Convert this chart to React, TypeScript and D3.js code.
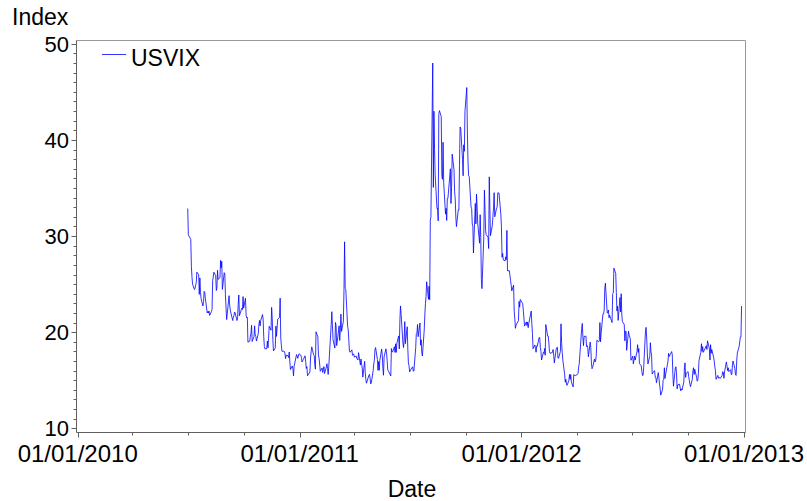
import React from "react";
import * as d3 from "d3";

// ---- data (USVIX daily closes) ----
const vix2010H2: [string, number][] = [
["2010-07-01",32.86],["2010-07-02",30.12],["2010-07-06",29.65],["2010-07-07",26.84],["2010-07-08",25.71],["2010-07-09",24.98],["2010-07-12",24.43],["2010-07-13",24.56],["2010-07-14",24.89],["2010-07-15",25.14],["2010-07-16",26.25],["2010-07-19",25.97],["2010-07-20",23.93],["2010-07-21",25.64],["2010-07-22",24.13],["2010-07-23",23.47],["2010-07-26",22.73],["2010-07-27",23.19],["2010-07-28",24.25],["2010-07-29",24.13],["2010-07-30",23.50],
["2010-08-02",22.01],["2010-08-03",22.15],["2010-08-04",21.99],["2010-08-05",22.21],["2010-08-06",21.74],["2010-08-09",22.14],["2010-08-10",22.37],["2010-08-11",25.39],["2010-08-12",25.73],["2010-08-13",26.24],["2010-08-16",25.89],["2010-08-17",24.33],["2010-08-18",24.59],["2010-08-19",26.44],["2010-08-20",25.49],["2010-08-23",25.66],["2010-08-24",27.46],["2010-08-25",26.70],["2010-08-26",27.37],["2010-08-27",24.45],["2010-08-30",26.19],["2010-08-31",26.05],
["2010-09-01",23.89],["2010-09-02",22.52],["2010-09-03",21.31],["2010-09-07",23.80],["2010-09-08",22.80],["2010-09-09",22.30],["2010-09-10",21.99],["2010-09-13",21.21],["2010-09-14",21.56],["2010-09-15",21.72],["2010-09-16",22.10],["2010-09-17",22.01],["2010-09-20",21.21],["2010-09-21",21.50],["2010-09-22",22.88],["2010-09-23",23.87],["2010-09-24",21.71],["2010-09-27",22.32],["2010-09-28",22.50],["2010-09-29",22.35],["2010-09-30",23.70],
["2010-10-01",22.50],["2010-10-04",23.53],["2010-10-05",21.76],["2010-10-06",21.49],["2010-10-07",21.56],["2010-10-08",18.96],["2010-10-11",19.07],["2010-10-12",19.58],["2010-10-13",19.88],["2010-10-14",20.71],["2010-10-15",19.03],["2010-10-18",19.55],["2010-10-19",20.66],["2010-10-20",19.72],["2010-10-21",19.57],["2010-10-22",19.08],["2010-10-25",19.85],["2010-10-26",20.71],["2010-10-27",21.22],["2010-10-28",20.64],["2010-10-29",21.20],
["2010-11-01",21.83],["2010-11-02",21.39],["2010-11-03",19.56],["2010-11-04",18.52],["2010-11-05",18.26],["2010-11-08",18.29],["2010-11-09",19.08],["2010-11-10",18.37],["2010-11-11",19.39],["2010-11-12",20.61],["2010-11-15",20.20],["2010-11-16",22.58],["2010-11-17",21.41],["2010-11-18",19.23],["2010-11-19",18.04],["2010-11-22",18.37],["2010-11-23",20.63],["2010-11-24",19.56],["2010-11-26",21.36],["2010-11-29",21.53],["2010-11-30",23.54],
["2010-12-01",19.39],["2010-12-02",18.65],["2010-12-03",18.01],["2010-12-06",18.02],["2010-12-07",17.99],["2010-12-08",17.74],["2010-12-09",17.25],["2010-12-10",17.61],["2010-12-13",17.55],["2010-12-14",17.35],["2010-12-15",17.94],["2010-12-16",16.88],["2010-12-17",16.11],["2010-12-20",16.48],["2010-12-21",16.20],["2010-12-22",15.45],["2010-12-23",16.47],["2010-12-27",17.67],["2010-12-28",17.52],["2010-12-29",17.28],["2010-12-30",17.52],["2010-12-31",17.75],
];

const vix2011H1: [string, number][] = [
["2011-01-03",17.61],["2011-01-04",17.38],["2011-01-05",16.89],["2011-01-06",17.02],["2011-01-07",17.14],["2011-01-10",17.54],["2011-01-11",16.93],["2011-01-12",16.23],["2011-01-13",16.41],["2011-01-14",15.46],["2011-01-18",15.87],["2011-01-19",17.31],["2011-01-20",17.99],["2011-01-21",18.47],["2011-01-24",17.65],["2011-01-25",17.59],["2011-01-26",16.64],["2011-01-27",16.15],["2011-01-28",20.04],["2011-01-31",19.53],
["2011-02-01",17.63],["2011-02-02",17.30],["2011-02-03",16.69],["2011-02-04",15.93],["2011-02-07",16.28],["2011-02-08",15.81],["2011-02-09",16.08],["2011-02-10",16.42],["2011-02-11",15.69],["2011-02-14",16.37],["2011-02-15",16.72],["2011-02-16",16.23],["2011-02-17",15.60],["2011-02-18",16.43],["2011-02-22",20.80],["2011-02-23",22.13],["2011-02-24",20.72],["2011-02-25",19.22],["2011-02-28",18.35],
["2011-03-01",21.01],["2011-03-02",20.70],["2011-03-03",18.60],["2011-03-04",19.06],["2011-03-07",20.66],["2011-03-08",19.14],["2011-03-09",20.22],["2011-03-10",21.88],["2011-03-11",20.08],["2011-03-14",21.13],["2011-03-15",24.32],["2011-03-16",29.40],["2011-03-17",24.56],["2011-03-18",24.44],["2011-03-21",20.61],["2011-03-22",20.25],["2011-03-23",19.17],["2011-03-24",18.00],["2011-03-25",17.91],["2011-03-28",18.16],["2011-03-29",17.59],["2011-03-30",17.68],["2011-03-31",17.74],
["2011-04-01",17.40],["2011-04-04",17.52],["2011-04-05",17.28],["2011-04-06",17.20],["2011-04-07",17.11],["2011-04-08",17.87],["2011-04-11",16.59],["2011-04-12",17.21],["2011-04-13",16.68],["2011-04-14",16.27],["2011-04-15",15.32],["2011-04-18",16.96],["2011-04-19",15.83],["2011-04-20",15.07],["2011-04-21",14.69],["2011-04-25",15.52],["2011-04-26",15.62],["2011-04-27",15.18],["2011-04-28",14.62],["2011-04-29",14.75],
["2011-05-02",15.99],["2011-05-03",16.70],["2011-05-04",17.08],["2011-05-05",18.20],["2011-05-06",18.40],["2011-05-09",17.16],["2011-05-10",16.03],["2011-05-11",16.95],["2011-05-12",16.03],["2011-05-13",17.07],["2011-05-16",18.24],["2011-05-17",17.60],["2011-05-18",16.23],["2011-05-19",15.52],["2011-05-20",17.43],["2011-05-23",18.27],["2011-05-24",17.82],["2011-05-25",17.07],["2011-05-26",16.09],["2011-05-27",15.98],["2011-05-31",15.45],
["2011-06-01",18.30],["2011-06-02",17.95],["2011-06-03",17.95],["2011-06-06",18.49],["2011-06-07",17.89],["2011-06-08",18.79],["2011-06-09",17.90],["2011-06-10",18.86],["2011-06-13",19.61],["2011-06-14",18.26],["2011-06-15",21.32],["2011-06-16",22.73],["2011-06-17",21.85],["2011-06-20",18.86],["2011-06-21",18.40],["2011-06-22",19.29],["2011-06-23",21.10],["2011-06-24",18.80],["2011-06-27",20.56],["2011-06-28",18.33],["2011-06-29",16.80],["2011-06-30",16.52],
];

const vix2011H2: [string, number][] = [
["2011-07-01",15.87],["2011-07-05",16.34],["2011-07-06",16.39],["2011-07-07",15.95],["2011-07-08",15.95],["2011-07-11",18.39],["2011-07-12",19.87],["2011-07-13",19.91],["2011-07-14",20.80],["2011-07-15",19.53],["2011-07-18",20.95],["2011-07-19",18.65],["2011-07-20",19.21],["2011-07-21",17.86],["2011-07-22",17.52],["2011-07-25",20.23],["2011-07-26",21.79],["2011-07-27",22.98],["2011-07-28",23.74],["2011-07-29",25.25],
["2011-08-01",23.42],["2011-08-02",24.79],["2011-08-03",23.38],["2011-08-04",31.66],["2011-08-05",32.00],["2011-08-08",48.00],["2011-08-09",35.06],["2011-08-10",42.99],["2011-08-11",39.00],["2011-08-12",36.36],["2011-08-15",32.85],["2011-08-16",32.91],["2011-08-17",31.58],["2011-08-18",42.67],["2011-08-19",43.05],["2011-08-22",42.44],["2011-08-23",36.27],["2011-08-24",35.90],["2011-08-25",39.76],["2011-08-26",35.59],["2011-08-29",32.28],["2011-08-30",32.89],["2011-08-31",31.62],
["2011-09-01",33.92],["2011-09-02",33.92],["2011-09-06",37.00],["2011-09-07",33.38],["2011-09-08",35.02],["2011-09-09",38.52],["2011-09-12",36.91],["2011-09-13",34.60],["2011-09-14",33.85],["2011-09-15",31.97],["2011-09-16",30.98],["2011-09-19",32.73],["2011-09-20",32.70],["2011-09-21",37.32],["2011-09-22",41.35],["2011-09-23",41.25],["2011-09-26",37.98],["2011-09-27",36.27],["2011-09-28",39.49],["2011-09-29",38.82],["2011-09-30",42.96],
["2011-10-03",45.45],["2011-10-04",40.82],["2011-10-05",37.81],["2011-10-06",36.27],["2011-10-07",36.20],["2011-10-10",33.04],["2011-10-11",32.86],["2011-10-12",31.26],["2011-10-13",30.99],["2011-10-14",28.24],["2011-10-17",33.39],["2011-10-18",31.26],["2011-10-19",34.37],["2011-10-20",33.00],["2011-10-21",31.32],["2011-10-24",29.26],["2011-10-25",32.22],["2011-10-26",29.86],["2011-10-27",25.46],["2011-10-28",24.53],["2011-10-31",29.96],
["2011-11-01",34.77],["2011-11-02",32.74],["2011-11-03",30.50],["2011-11-04",30.16],["2011-11-07",29.85],["2011-11-08",28.70],["2011-11-09",36.16],["2011-11-10",32.81],["2011-11-11",30.04],["2011-11-14",31.13],["2011-11-15",32.05],["2011-11-16",32.94],["2011-11-17",34.51],["2011-11-18",32.00],["2011-11-21",32.91],["2011-11-22",33.01],["2011-11-23",34.50],["2011-11-25",34.47],["2011-11-28",32.28],["2011-11-29",31.00],["2011-11-30",27.80],
["2011-12-01",28.20],["2011-12-02",27.52],["2011-12-05",27.41],["2011-12-06",27.84],["2011-12-07",27.54],["2011-12-08",30.59],["2011-12-09",26.38],["2011-12-12",26.40],["2011-12-13",25.90],["2011-12-14",25.40],["2011-12-15",24.90],["2011-12-16",24.29],["2011-12-19",24.90],["2011-12-20",22.20],["2011-12-21",21.40],["2011-12-22",20.40],["2011-12-23",20.73],["2011-12-27",21.20],["2011-12-28",23.20],["2011-12-29",22.60],["2011-12-30",23.40],
];

const vix2012H1: [string, number][] = [
["2012-01-03",22.97],["2012-01-04",22.22],["2012-01-05",21.48],["2012-01-06",20.63],["2012-01-09",21.07],["2012-01-10",20.69],["2012-01-11",21.05],["2012-01-12",20.47],["2012-01-13",20.91],["2012-01-17",22.20],["2012-01-18",20.89],["2012-01-19",19.87],["2012-01-20",18.28],["2012-01-23",18.67],["2012-01-24",18.31],["2012-01-25",17.91],["2012-01-26",18.57],["2012-01-27",18.53],["2012-01-30",19.44],["2012-01-31",19.44],
["2012-02-01",18.40],["2012-02-02",17.98],["2012-02-03",17.10],["2012-02-06",17.90],["2012-02-07",17.80],["2012-02-08",18.30],["2012-02-09",17.60],["2012-02-10",20.79],["2012-02-13",19.60],["2012-02-14",19.60],["2012-02-15",18.90],["2012-02-16",18.00],["2012-02-17",17.80],["2012-02-21",17.90],["2012-02-22",18.20],["2012-02-23",17.60],["2012-02-24",16.80],["2012-02-27",18.20],["2012-02-28",18.40],["2012-02-29",18.43],
["2012-03-01",17.30],["2012-03-02",17.29],["2012-03-05",18.00],["2012-03-06",20.87],["2012-03-07",18.80],["2012-03-08",17.90],["2012-03-09",17.10],["2012-03-12",15.60],["2012-03-13",14.80],["2012-03-14",15.10],["2012-03-15",14.60],["2012-03-16",14.47],["2012-03-19",15.00],["2012-03-20",15.60],["2012-03-21",15.10],["2012-03-22",15.60],["2012-03-23",14.82],["2012-03-26",14.30],["2012-03-27",15.59],["2012-03-28",15.50],["2012-03-29",15.50],["2012-03-30",15.50],
["2012-04-02",15.60],["2012-04-03",15.70],["2012-04-04",16.40],["2012-04-05",16.70],["2012-04-09",20.39],["2012-04-10",20.91],["2012-04-11",19.50],["2012-04-12",18.60],["2012-04-13",19.55],["2012-04-16",19.60],["2012-04-17",18.50],["2012-04-18",18.60],["2012-04-19",18.40],["2012-04-20",17.44],["2012-04-23",18.97],["2012-04-24",18.40],["2012-04-25",16.80],["2012-04-26",16.20],["2012-04-27",16.32],["2012-04-30",17.20],
["2012-05-01",16.90],["2012-05-02",17.00],["2012-05-03",17.60],["2012-05-04",19.16],["2012-05-07",19.00],["2012-05-08",19.10],["2012-05-09",21.00],["2012-05-10",19.00],["2012-05-11",19.89],["2012-05-14",21.90],["2012-05-15",21.90],["2012-05-16",22.30],["2012-05-17",24.50],["2012-05-18",25.10],["2012-05-21",22.00],["2012-05-22",22.00],["2012-05-23",22.30],["2012-05-24",21.50],["2012-05-25",21.76],["2012-05-29",21.00],["2012-05-30",24.00],["2012-05-31",24.06],
["2012-06-01",26.66],["2012-06-04",26.12],["2012-06-05",24.10],["2012-06-06",22.20],["2012-06-07",22.70],["2012-06-08",21.23],["2012-06-11",23.60],["2012-06-12",22.10],["2012-06-13",24.00],["2012-06-14",21.80],["2012-06-15",21.10],["2012-06-18",20.80],["2012-06-19",19.10],["2012-06-20",20.10],["2012-06-21",20.10],["2012-06-22",18.11],["2012-06-25",20.10],["2012-06-26",19.70],["2012-06-27",19.50],["2012-06-28",19.30],["2012-06-29",17.08],
];

const vix2012H2: [string, number][] = [
["2012-07-02",17.50],["2012-07-03",16.70],["2012-07-05",17.50],["2012-07-06",17.10],["2012-07-09",17.97],["2012-07-10",18.70],["2012-07-11",17.90],["2012-07-12",18.30],["2012-07-13",16.74],["2012-07-16",16.50],["2012-07-17",15.90],["2012-07-18",15.50],["2012-07-19",15.50],["2012-07-20",16.30],["2012-07-23",20.20],["2012-07-24",20.50],["2012-07-25",19.30],["2012-07-26",17.80],["2012-07-27",16.70],["2012-07-30",17.50],["2012-07-31",18.90],
["2012-08-01",17.96],["2012-08-02",17.60],["2012-08-03",15.64],["2012-08-06",15.95],["2012-08-07",15.99],["2012-08-08",15.30],["2012-08-09",15.30],["2012-08-10",14.74],["2012-08-13",15.80],["2012-08-14",15.30],["2012-08-15",14.60],["2012-08-16",14.20],["2012-08-17",13.45],["2012-08-20",14.00],["2012-08-21",15.00],["2012-08-22",15.10],["2012-08-23",16.30],["2012-08-24",15.18],["2012-08-27",16.30],["2012-08-28",16.60],["2012-08-29",17.00],["2012-08-30",17.80],["2012-08-31",17.47],
["2012-09-04",17.98],["2012-09-05",17.70],["2012-09-06",15.60],["2012-09-07",14.38],["2012-09-10",16.28],["2012-09-11",16.40],["2012-09-12",15.80],["2012-09-13",14.10],["2012-09-14",14.51],["2012-09-17",14.60],["2012-09-18",14.20],["2012-09-19",13.90],["2012-09-20",14.10],["2012-09-21",13.98],["2012-09-24",14.80],["2012-09-25",16.30],["2012-09-26",16.80],["2012-09-27",15.30],["2012-09-28",15.73],
["2012-10-01",15.90],["2012-10-02",15.40],["2012-10-03",15.00],["2012-10-04",14.60],["2012-10-05",14.33],["2012-10-08",15.10],["2012-10-09",16.00],["2012-10-10",16.30],["2012-10-11",15.60],["2012-10-12",16.14],["2012-10-15",15.30],["2012-10-16",14.90],["2012-10-17",15.00],["2012-10-18",15.70],["2012-10-19",17.06],["2012-10-22",17.90],["2012-10-23",18.80],["2012-10-24",18.00],["2012-10-25",18.50],["2012-10-26",17.90],["2012-10-31",18.60],
["2012-11-01",18.20],["2012-11-02",19.10],["2012-11-05",18.30],["2012-11-06",17.10],["2012-11-07",18.70],["2012-11-08",17.80],["2012-11-09",18.20],["2012-11-12",17.40],["2012-11-13",17.00],["2012-11-14",16.40],["2012-11-15",16.00],["2012-11-16",15.10],["2012-11-19",15.50],["2012-11-20",15.20],["2012-11-21",15.30],["2012-11-23",15.20],["2012-11-26",15.50],["2012-11-27",15.90],["2012-11-28",15.80],["2012-11-29",15.20],["2012-11-30",15.87],
["2012-12-03",16.90],["2012-12-04",16.50],["2012-12-05",16.00],["2012-12-06",16.30],["2012-12-07",15.90],["2012-12-10",16.10],["2012-12-11",15.60],["2012-12-12",15.60],["2012-12-13",16.60],["2012-12-14",17.00],["2012-12-17",16.20],["2012-12-18",15.60],["2012-12-19",15.50],["2012-12-20",17.00],["2012-12-21",17.84],["2012-12-24",18.50],["2012-12-26",19.50],["2012-12-27",19.50],["2012-12-28",22.72],
];

const xTickDates = ["2010-01-01", "2011-01-01", "2012-01-01", "2013-01-01"];
const xTickLabels = ["01/01/2010", "01/01/2011", "01/01/2012", "01/01/2013"];
const yTickValues = [10, 20, 30, 40, 50];
const seriesName = "USVIX";
const xTitle = "Date";
const yTitle = "Index";

type Pt = { date: Date; value: number };
const parse = (s: string) => new Date(s + "T00:00:00Z");

export default function App() {
  const W = 807, H = 501;
  const left = 76.5, right = 745.5, top = 40.5, bottom = 432.5;
  const font = "'Liberation Sans', Arial, sans-serif";

  const data: Pt[] = [...vix2010H2, ...vix2011H1, ...vix2011H2, ...vix2012H1, ...vix2012H2]
    .map(([d, v]) => ({ date: parse(d), value: v }));

  const x = d3.scaleUtc().domain([parse(xTickDates[0]), parse(xTickDates[xTickDates.length - 1])]).range([77.7, 744]);
  const y = d3.scaleLinear().domain([10, 50]).range([428.3, 43.8]);

  const line = d3.line<Pt>().x(d => x(d.date)).y(d => y(d.value));

  const minorX = d3.utcMonth.every(3)!.range(parse(xTickDates[0]), parse(xTickDates[xTickDates.length - 1]))
    .filter(d => d.getUTCMonth() !== 0);
  const minorY = d3.range(10, 51, 1).filter(v => v % 10 !== 0);
  const axisColor = "#606060";
  const frameColor = "#999999";

  return (
    <svg width={W} height={H} style={{ position: "absolute", left: 0, top: 0, background: "#fff" }} fontFamily={font}>
      <rect x={0} y={0} width={W} height={H} fill="#fff" />
      {/* frame */}
      <line x1={left} x2={right} y1={top} y2={top} stroke={frameColor} strokeWidth={1} />
      <line x1={right} x2={right} y1={top} y2={bottom} stroke={frameColor} strokeWidth={1} />
      <line x1={left} x2={left} y1={top} y2={bottom} stroke={axisColor} strokeWidth={1} />
      <line x1={left} x2={right} y1={bottom} y2={bottom} stroke={axisColor} strokeWidth={1} />

      {/* y ticks */}
      {minorY.map(v => (
        <line key={"my" + v} x1={left - 3} x2={left} y1={Math.round(y(v)) + 0.5} y2={Math.round(y(v)) + 0.5} stroke={axisColor} />
      ))}
      {yTickValues.map(v => (
        <g key={"y" + v}>
          <line x1={left - 5} x2={left} y1={Math.round(y(v)) + 0.5} y2={Math.round(y(v)) + 0.5} stroke={axisColor} />
          <text x={69} y={y(v) + 8} fontSize={22} textAnchor="end" fill="#000">{v}</text>
        </g>
      ))}

      {/* x ticks */}
      {minorX.map((d, i) => (
        <line key={"mx" + i} x1={Math.round(x(d)) + 0.5} x2={Math.round(x(d)) + 0.5} y1={bottom} y2={bottom + 3} stroke={axisColor} />
      ))}
      {xTickDates.map((s, i) => (
        <g key={"x" + s}>
          <line x1={Math.round(x(parse(s))) + 0.5} x2={Math.round(x(parse(s))) + 0.5} y1={bottom} y2={bottom + 5} stroke={axisColor} />
          <text x={x(parse(s))} y={462} fontSize={24} textAnchor="middle" fill="#000">{xTickLabels[i]}</text>
        </g>
      ))}

      {/* titles */}
      <text x={12} y={25} fontSize={23} fill="#000">{yTitle}</text>
      <text x={412} y={497} fontSize={23} textAnchor="middle" fill="#000">{xTitle}</text>

      {/* legend */}
      <line x1={102} x2={126} y1={54.5} y2={54.5} stroke="#0000ff" strokeWidth={0.8} />
      <text x={131} y={65.5} fontSize={23} fill="#000">{seriesName}</text>

      {/* series */}
      <path d={line(data) || ""} fill="none" stroke="#0000ff" strokeWidth={0.8} strokeLinejoin="round" />
    </svg>
  );
}
